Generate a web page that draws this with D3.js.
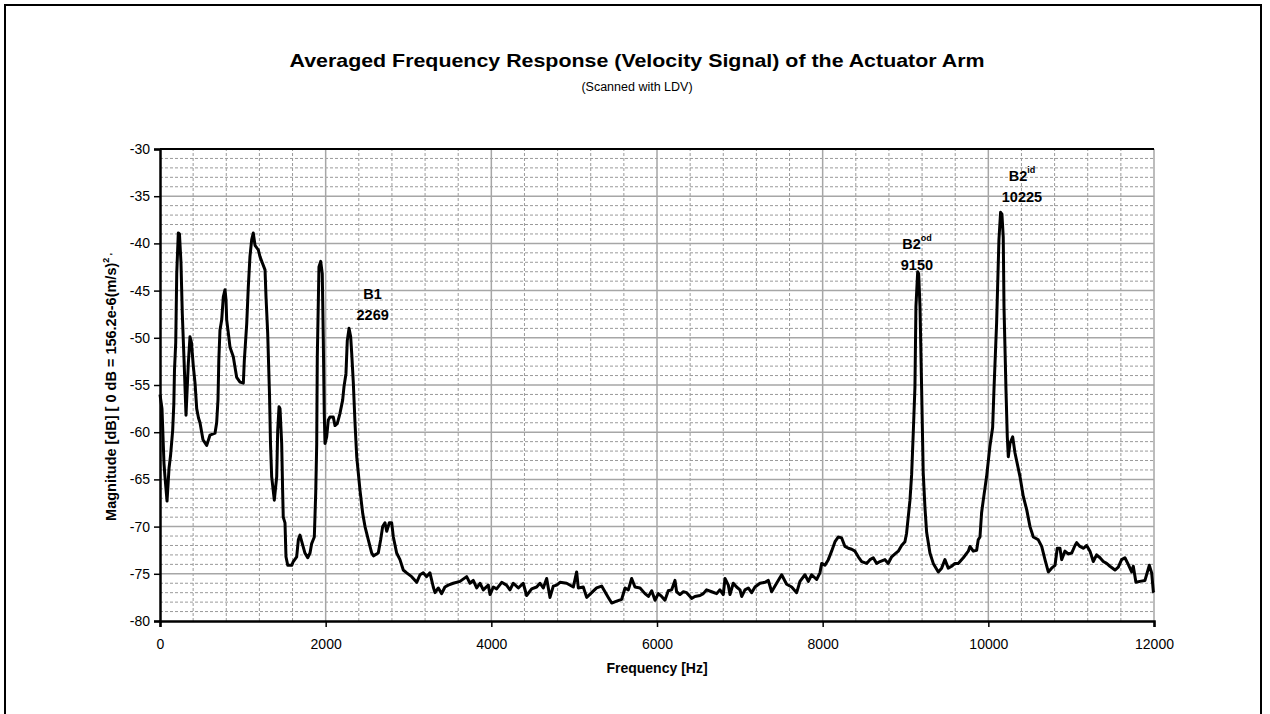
<!DOCTYPE html>
<html>
  <head>
    <meta charset="utf-8" />
    <script src="https://d3js.org/d3.v7.min.js"></script>
    <style>
      body { margin: 0; background: #fff; }
      text { font-family: "Liberation Sans", Arial, sans-serif; fill: #000; }
    </style>
  </head>
  <body>
    <svg id="chart"></svg>
    <script>
      // Frequency axis values (Hz)
      var freqHz = [
        0, 24, 48, 60, 85, 109, 127, 153, 167, 175, 190, 202, 221, 235, 253, 269, 293, 314, 342, 362,
        380, 402, 423, 443, 465, 483, 519, 564, 604, 664, 684, 700, 710, 724, 745, 764, 785, 797, 805, 825,
        845, 885, 905, 926, 966, 1006, 1018, 1047, 1066, 1086, 1107, 1126, 1147, 1187, 1207, 1228, 1268, 1280, 1300, 1322,
        1334, 1348, 1380, 1409, 1421, 1437, 1449, 1469, 1481, 1488, 1509, 1521, 1542, 1590, 1609, 1650, 1670, 1690, 1718, 1750,
        1783, 1811, 1831, 1863, 1880, 1892, 1899, 1919, 1940, 1959, 1971, 1983, 1992, 2012, 2032, 2052, 2092, 2113, 2140, 2173,
        2205, 2221, 2245, 2261, 2282, 2302, 2314, 2334, 2354, 2375, 2414, 2447, 2475, 2515, 2556, 2576, 2635, 2664, 2688, 2716,
        2737, 2768, 2797, 2817, 2857, 2897, 2937, 2978, 3038, 3099, 3139, 3178, 3219, 3259, 3299, 3320, 3360, 3400, 3440, 3480,
        3540, 3622, 3702, 3742, 3782, 3823, 3863, 3903, 3963, 3984, 4024, 4064, 4125, 4183, 4225, 4265, 4326, 4385, 4426, 4487,
        4547, 4587, 4627, 4668, 4708, 4748, 4789, 4829, 4909, 4990, 5030, 5050, 5110, 5151, 5211, 5271, 5332, 5372, 5412, 5453,
        5513, 5574, 5614, 5654, 5694, 5734, 5795, 5855, 5896, 5936, 5976, 6016, 6056, 6096, 6136, 6177, 6217, 6237, 6277, 6318,
        6358, 6418, 6458, 6519, 6559, 6599, 6660, 6720, 6760, 6800, 6821, 6861, 6881, 6921, 6961, 7002, 7022, 7062, 7102, 7142,
        7183, 7243, 7304, 7344, 7384, 7444, 7505, 7565, 7626, 7686, 7726, 7786, 7827, 7867, 7927, 7967, 7988, 8028, 8068, 8108,
        8149, 8189, 8229, 8269, 8310, 8350, 8390, 8430, 8471, 8531, 8571, 8611, 8652, 8692, 8752, 8792, 8833, 8873, 8913, 8953,
        8993, 9013, 9033, 9054, 9074, 9094, 9114, 9126, 9147, 9159, 9175, 9195, 9214, 9235, 9255, 9295, 9335, 9396, 9436, 9476,
        9516, 9557, 9597, 9637, 9698, 9758, 9778, 9818, 9859, 9878, 9899, 9919, 9939, 9979, 10019, 10052, 10068, 10100, 10128, 10148,
        10164, 10180, 10189, 10213, 10229, 10241, 10261, 10294, 10322, 10382, 10422, 10463, 10503, 10543, 10603, 10644, 10684, 10724, 10764, 10805,
        10832, 10865, 10885, 10925, 10965, 11006, 11046, 11066, 11106, 11146, 11187, 11227, 11267, 11307, 11348, 11388, 11428, 11468, 11529, 11569,
        11609, 11649, 11689, 11730, 11750, 11782, 11830, 11891, 11943, 11972, 11992, 12000
      ];

      // Magnitude (dB) for each frequency above
      var magDb = [
        -56, -57.5, -63.3, -64.7, -67.3, -63.8, -62.5, -59.8, -57, -53.4, -50.5, -43.2, -38.9, -39, -42, -47.4, -53, -58.2, -52.7, -49.9,
        -50.5, -53, -54.8, -57.5, -58.5, -59, -60.8, -61.4, -60.3, -60.1, -59, -56.6, -52.4, -49.2, -48.1, -45.7, -44.9, -46, -48.1, -49.5,
        -51, -52, -53.1, -54.2, -54.7, -54.8, -52.4, -48.5, -44.6, -41.4, -39.6, -38.9, -40.2, -40.7, -41.4, -41.9, -42.8, -45.7, -49.5, -56,
        -61.2, -64.7, -67.2, -64.7, -59.8, -57.3, -57.5, -61.2, -66.4, -69, -69.6, -73.2, -74.1, -74.1, -73.7, -73.2, -71.4, -70.9, -71.8, -72.8,
        -73.3, -72.8, -71.8, -71.1, -66.4, -61.2, -52, -42.5, -41.9, -43.2, -49.9, -58, -61.2, -60.5, -58.7, -58.4, -58.4, -59.3, -59.1, -58,
        -56.6, -55.2, -53.8, -50.3, -49, -49.9, -51.6, -54.8, -59, -62.6, -66.1, -68.6, -70, -71.4, -72.8, -73.1, -72.8, -71.4, -70, -69.6,
        -70.5, -69.6, -69.6, -71.1, -72.8, -73.5, -74.6, -74.9, -75.3, -75.9, -75.1, -74.9, -75.3, -74.9, -76.4, -77, -76.5, -77.1, -76.4, -76.2,
        -76, -75.8, -75.3, -76, -75.7, -76.5, -76, -76.7, -76.2, -77.2, -76.4, -76.6, -75.9, -76.2, -76.7, -76, -76.5, -76, -77.3, -76.6,
        -76.4, -76, -76.5, -75.5, -77.5, -76.3, -76.2, -75.9, -76, -76.4, -74.8, -76.5, -76.4, -77.5, -77, -76.5, -76.3, -76.9, -77.5, -78.1,
        -77.9, -77.7, -76.5, -76.7, -75.5, -76.4, -76.5, -77.1, -77.4, -76.8, -77.8, -77.1, -77.4, -77.8, -76.8, -76.7, -75.7, -76.9, -77.2, -76.9,
        -77, -77.6, -77.4, -77.3, -77.1, -76.7, -76.9, -77.1, -76.7, -77.2, -75.5, -76.2, -77.2, -76, -76.4, -76.7, -77.4, -76.7, -76.5, -77,
        -76.4, -76, -75.9, -75.7, -76.9, -76, -75.1, -76.1, -76.4, -77, -75.8, -75.1, -75.8, -75.1, -75.6, -74.9, -73.9, -74.1, -73.5, -72.6,
        -71.6, -71.1, -71.2, -72.1, -72.3, -72.4, -72.6, -73.2, -73.7, -73.9, -73.5, -73.3, -73.9, -73.7, -73.5, -73.9, -73.2, -72.9, -72.6, -72,
        -71.6, -70.7, -69, -67.2, -64.5, -60, -55.2, -46.7, -43, -43.2, -46.7, -55.5, -64.3, -68, -70.6, -72.8, -73.9, -74.8, -74.4, -73.5,
        -74.4, -74.2, -73.9, -73.9, -73.3, -72.6, -72.1, -72.6, -72.5, -71.4, -71.1, -68.5, -67.2, -64.7, -61.5, -59.5, -55.5, -48.4, -39.6, -36.7,
        -36.9, -39.3, -46.7, -55.5, -60.5, -62.6, -61.2, -60.5, -62.2, -64.7, -66.8, -68.2, -70, -71.1, -71.4, -72.1, -73.5, -74.8, -74.4, -74.1,
        -72.3, -72.3, -73.5, -72.6, -72.9, -72.8, -72, -71.7, -72.1, -72.3, -72, -72.6, -73.7, -73, -73.3, -73.7, -73.9, -74.2, -74.6, -74.3,
        -73.5, -73.3, -74, -74.8, -74.2, -75.9, -75.8, -75.7, -74.1, -74.9, -76.9, -77
      ];

      // Axis ticks
      var xTicks = [0, 2000, 4000, 6000, 8000, 10000, 12000];
      var yTicks = [-80, -75, -70, -65, -60, -55, -50, -45, -40, -35, -30];

      // Peak annotations (number is placed at freq/dB, name sits above it)
      var annName = ["B1", "B2", "B2"];
      var annSup = ["", "od", "id"];
      var annValue = ["2269", "9150", "10225"];
      var annFreq = [2567, 9138, 10406];
      var annDb = [-48.1, -42.8, -35.6];

      var width = 1270;
      var height = 714;

      var svg = d3.select("#chart").attr("width", width).attr("height", height);

      // outer frame of the chart area
      svg
        .append("rect")
        .attr("x", 5)
        .attr("y", 5)
        .attr("width", 1256)
        .attr("height", 720)
        .attr("fill", "none")
        .attr("stroke", "#000")
        .attr("stroke-width", 2);

      var x = d3.scaleLinear().domain([0, 12000]).range([160, 1154]);
      var y = d3.scaleLinear().domain([-80, -30]).range([621, 149]);

      // Minor grid (dotted)
      var grid = svg.append("g");
      grid
        .selectAll("line.hmin")
        .data(d3.range(-79, -30, 1).filter((v) => v % 5 !== 0))
        .join("line")
        .attr("x1", x(0))
        .attr("x2", x(12000))
        .attr("y1", (d) => y(d))
        .attr("y2", (d) => y(d))
        .attr("stroke", "#9a9a9a")
        .attr("stroke-width", 1)
        .attr("stroke-dasharray", "3,2");
      grid
        .selectAll("line.vmin")
        .data(d3.range(400, 12000, 400).filter((v) => v % 2000 !== 0))
        .join("line")
        .attr("x1", (d) => x(d))
        .attr("x2", (d) => x(d))
        .attr("y1", y(-80))
        .attr("y2", y(-30))
        .attr("stroke", "#9a9a9a")
        .attr("stroke-width", 1)
        .attr("stroke-dasharray", "3,2");

      // Major grid (solid gray)
      var major = svg.append("g");
      major
        .selectAll("line.h")
        .data(yTicks.slice(1, -1))
        .join("line")
        .attr("x1", x(0))
        .attr("x2", x(12000))
        .attr("y1", (d) => y(d))
        .attr("y2", (d) => y(d))
        .attr("stroke", "#a6a6a6")
        .attr("stroke-width", 1.5);
      major
        .selectAll("line.v")
        .data(xTicks.slice(1))
        .join("line")
        .attr("x1", (d) => x(d))
        .attr("x2", (d) => x(d))
        .attr("y1", y(-80))
        .attr("y2", y(-30))
        .attr("stroke", "#a6a6a6")
        .attr("stroke-width", 1.5);

      // top edge of plot area
      svg
        .append("line")
        .attr("x1", x(0))
        .attr("x2", x(12000))
        .attr("y1", y(-30))
        .attr("y2", y(-30))
        .attr("stroke", "#000")
        .attr("stroke-width", 2);

      // Axes
      var xAxis = svg
        .append("g")
        .attr("transform", "translate(0," + y(-80) + ")")
        .call(d3.axisBottom(x).tickValues(xTicks).tickSize(6).tickPadding(12).tickFormat(d3.format("d")));
      var yAxis = svg
        .append("g")
        .attr("transform", "translate(" + x(0) + ",0)")
        .call(d3.axisLeft(y).tickValues(yTicks).tickSize(6).tickPadding(4).tickFormat(d3.format("d")));

      [xAxis, yAxis].forEach(function (ax) {
        ax.select(".domain").attr("stroke", "#000").attr("stroke-width", 2.5);
        ax.selectAll(".tick line").attr("stroke", "#000").attr("stroke-width", 1.5);
        ax.selectAll(".tick text")
          .style("font-family", "'Liberation Sans', Arial, sans-serif")
          .style("font-size", "14px")
          .attr("fill", "#000");
      });
      yAxis.selectAll(".tick text").text((d) => (d < 0 ? "-" + Math.abs(d) : d));

      // Data line
      var points = freqHz.map((f, i) => [f, magDb[i]]);
      var line = d3
        .line()
        .x((d) => x(d[0]))
        .y((d) => y(d[1]));
      svg
        .append("path")
        .datum(points)
        .attr("d", line)
        .attr("fill", "none")
        .attr("stroke", "#000")
        .attr("stroke-width", 3)
        .attr("stroke-linejoin", "round");

      // Peak labels
      annValue.forEach(function (v, i) {
        var t = svg
          .append("text")
          .attr("x", x(annFreq[i]))
          .attr("y", y(annDb[i]) - 21)
          .attr("text-anchor", "middle")
          .style("font-size", "14.5px")
          .style("font-weight", "bold");
        t.append("tspan").text(annName[i]);
        if (annSup[i]) {
          t.append("tspan").attr("dy", -8).style("font-size", "9px").text(annSup[i]);
        }
        svg
          .append("text")
          .attr("x", x(annFreq[i]))
          .attr("y", y(annDb[i]))
          .attr("text-anchor", "middle")
          .style("font-size", "14.5px")
          .style("font-weight", "bold")
          .text(v);
      });

      // Titles
      svg
        .append("text")
        .attr("x", 637)
        .attr("y", 67)
        .attr("text-anchor", "middle")
        .attr("textLength", 695)
        .attr("lengthAdjust", "spacingAndGlyphs")
        .style("font-size", "19px")
        .style("font-weight", "bold")
        .text("Averaged Frequency Response (Velocity Signal) of the Actuator Arm");

      svg
        .append("text")
        .attr("x", 637)
        .attr("y", 91)
        .attr("text-anchor", "middle")
        .style("font-size", "12.5px")
        .text("(Scanned with LDV)");

      svg
        .append("text")
        .attr("x", (x(0) + x(12000)) / 2)
        .attr("y", 673)
        .attr("text-anchor", "middle")
        .style("font-size", "14px")
        .style("font-weight", "bold")
        .text("Frequency [Hz]");

      var yTitle = svg
        .append("text")
        .attr("transform", "translate(116," + (y(-55) + 2) + ") rotate(-90)")
        .attr("text-anchor", "middle")
        .style("font-size", "14.5px")
        .style("font-weight", "bold");
      yTitle.append("tspan").text("Magnitude [dB] [ 0 dB = 156.2e-6(m/s)");
      yTitle.append("tspan").attr("dy", -7).style("font-size", "9px").text("2");
      yTitle.append("tspan").attr("dy", 7).style("font-size", "9px").text(" '");
    </script>
  </body>
</html>
